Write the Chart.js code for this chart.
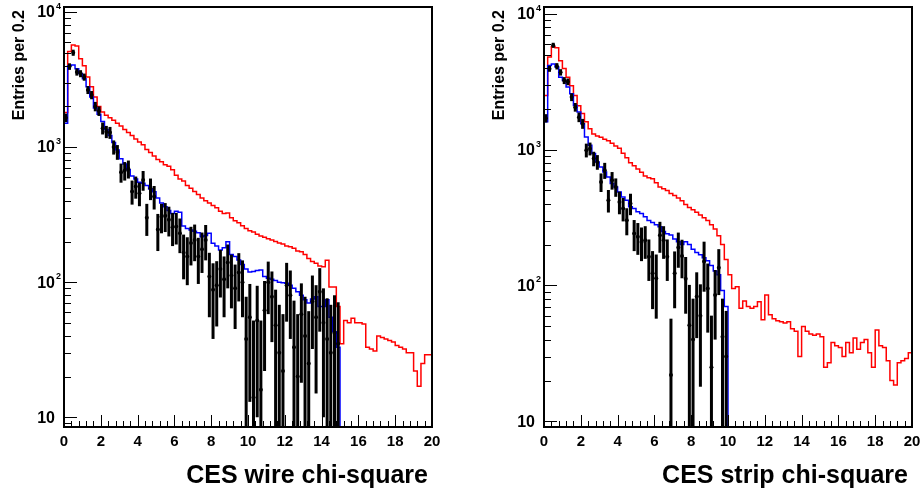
<!DOCTYPE html>
<html>
<head>
<meta charset="utf-8">
<script src="https://cdn.jsdelivr.net/npm/chart.js@4.4.1/dist/chart.umd.min.js"></script>
<style>
html, body { margin: 0; padding: 0; background: #fff; }
#wrap { position: relative; width: 923px; height: 494px; }
canvas { position: absolute; top: 0; }
</style>
</head>
<body>
<div id="wrap">
<canvas id="wireChart" width="480" height="494" style="left:0px"></canvas>
<canvas id="stripChart" width="443" height="494" style="left:480px"></canvas>
</div>
<script>
// 100 bins of 0.2 between 0 and 20
const binWidth = 0.2;
const xTickLabels = ['0', '2', '4', '6', '8', '10', '12', '14', '16', '18', '20'];
const yLabelExps = [1, 2, 3, 4];

// ---- CES wire ----
const wireRed = [
  1800, 5100, 5700, 5600, 4500, 4000, 3300, 2800, 2350, 2000,
  1820, 1720, 1650, 1580, 1500, 1430, 1350, 1280, 1220, 1150,
  1090, 1040, 960, 910, 860, 810, 780, 740, 720, 680,
  620, 580, 560, 520, 495, 470, 445, 420, 400, 385,
  370, 355, 335, 322, 325, 300, 285, 275, 262, 250,
  240, 235, 226, 220, 215, 210, 205, 200, 195, 192,
  185, 183, 178, 170, 168, 160, 150, 142, 138, 132,
  130, 145, 92, 92, 66, 35, 52, 50, 54, 50,
  50, 49, 33, 32, 31, 40, 39, 38, 37, 36,
  34, 33, 32, 30, 30, 22, 17, 25, 29, 29
];
const wireBlue = [
  1500, 4000, 4050, 3800, 3500, 3200, 2800, 2350, 1950, 1750,
  1550, 1350, 1220, 1080, 950, 820, 750, 680, 610, 580,
  550, 540, 520, 490, 467, 420, 385, 361, 340, 323,
  335, 330, 260, 250, 243, 238, 232, 217, 222, 230,
  194, 185, 173, 180, 199, 160, 155, 146, 135, 125,
  119, 120, 122, 123, 110, 107, 105, 103, 100, 99,
  98, 95, 90, 85, 80, 74, 70, 75, 78, 66,
  66, 74, 55, 43, 33, 0, 0, 0, 0, 0,
  0, 0, 0, 0, 0, 0, 0, 0, 0, 0,
  0, 0, 0, 0, 0, 0, 0, 0, 0, 0
];
const wireData = [
  1650, 3950, 5000, 3600, 3500, 3300, 2650, 2430, 2000, 1850,
  1380, 1300, 1280, 1000, 920, 650, 670, 690, 470, 510,
  455, 570, 300, 495, 430, 245, 305, 310, 290, 255,
  258, 230, 165, 155, 195, 205, 155, 175, 205, 110,
  88, 95, 125, 105, 140, 112, 90, 118, 100, 38,
  55, 14, 52, 16, 62, 100, 78, 48, 30, 22,
  95, 80, 33, 20, 58, 40, 25, 72, 55, 85,
  50, 38, 30, 42, 35
];
const wireErr = [
  120, 220, 260, 220, 210, 200, 180, 170, 160, 150,
  140, 135, 130, 120, 115, 105, 105, 105, 95, 95,
  90, 95, 80, 90, 85, 75, 75, 75, 72, 70,
  68, 66, 60, 60, 62, 62, 58, 58, 60, 55,
  50, 48, 48, 50, 50, 48, 45, 46, 45, 40,
  42, 38, 42, 36, 40, 42, 42, 40, 38, 36,
  44, 42, 40, 38, 40, 38, 36, 40, 40, 42,
  40, 38, 38, 38, 36
];

// ---- CES strip ----
const stripRed = [
  2500, 4800, 5700, 5600, 4500, 3950, 3400, 2950, 2500, 2100,
  1840, 1600, 1420, 1300, 1260, 1230, 1190, 1160, 1110, 1060,
  1020, 940, 870, 800, 760, 720, 680, 640, 620, 610,
  570, 530, 515, 500, 475, 460, 440, 420, 395, 375,
  360, 345, 330, 315, 300, 280, 260, 232, 200, 155,
  120, 95, 98, 68, 77, 70, 68, 70, 76, 56,
  85, 61, 57, 55, 54, 53, 54, 48, 46, 30,
  50, 46, 44, 43, 44, 42, 25, 27, 38, 36,
  35, 30, 38, 32, 41, 34, 38, 40, 32, 25,
  47, 36, 35, 28, 20, 18.5, 27, 28, 29, 32
];
const stripBlue = [
  1600, 4150, 4250, 4040, 3400, 3220, 2880, 2570, 2110, 1885,
  1550, 1235, 1075, 935, 810, 745, 684, 628, 562, 531,
  488, 448, 424, 379, 368, 348, 339, 320, 300, 290,
  280, 270, 250, 240, 235, 220, 210, 200, 210, 200,
  185, 175, 168, 160, 152, 140, 128, 120, 92, 70,
  0, 0, 0, 0, 0, 0, 0, 0, 0, 0,
  0, 0, 0, 0, 0, 0, 0, 0, 0, 0,
  0, 0, 0, 0, 0, 0, 0, 0, 0, 0,
  0, 0, 0, 0, 0, 0, 0, 0, 0, 0,
  0, 0, 0, 0, 0, 0, 0, 0, 0, 0
];
const stripData = [
  1700, 3930, 5850, 4100, 3700, 3220, 3150, 2430, 2050, 1730,
  1550, 990, 1015, 858, 810, 577, 703, 424, 595, 531,
  412, 368, 302, 401, 241, 228, 209, 215, 163, 123,
  113, 234, 215, 163, 22, 123, 190, 165, 112, 51,
  40, 83, 60, 150, 95, 25, 85, 135, 42, 30
];
const stripErr = [
  120, 200, 250, 220, 200, 190, 180, 160, 150, 140,
  130, 115, 110, 105, 100, 90, 95, 80, 88, 82,
  78, 72, 68, 72, 62, 60, 58, 58, 55, 56,
  56, 60, 58, 55, 35, 55, 55, 52, 50, 50,
  40, 42, 42, 60, 50, 35, 45, 50, 38, 35
];

const FONT = '"Liberation Sans", Arial, Helvetica, sans-serif';

// histogram as a step line: one point per left bin edge, plus closing edge
function stepPoints(vals, floor) {
  const pts = vals.map((v, i) => ({ x: i * binWidth, y: v > 0 ? v : floor }));
  const last = vals[vals.length - 1];
  pts.push({ x: vals.length * binWidth, y: last > 0 ? last : floor });
  return pts;
}

const rootAxes = {
  id: 'rootAxes',
  afterDatasetsDraw(chart, args, o) {
    const { ctx, chartArea: a, scales: { x, y } } = chart;
    // error bars of the data points
    ctx.save();
    ctx.beginPath();
    ctx.rect(a.left, a.top, a.right - a.left, a.bottom - a.top);
    ctx.clip();
    ctx.strokeStyle = '#000';
    ctx.lineWidth = 3;
    o.values.forEach((v, i) => {
      const e = o.errors[i];
      const px = x.getPixelForValue((i + 0.5) * binWidth);
      const lo = v - e;
      const yLo = lo > y.min ? y.getPixelForValue(lo) : a.bottom;
      const yHi = y.getPixelForValue(v + e);
      ctx.beginPath();
      ctx.moveTo(px, yLo);
      ctx.lineTo(px, yHi);
      ctx.stroke();
    });
    ctx.restore();
  },
  afterDraw(chart, args, o) {
    const { ctx, chartArea: a, scales: { x, y } } = chart;
    ctx.save();
    ctx.strokeStyle = '#000';
    ctx.fillStyle = '#000';

    // x ticks, every 0.4, long every 2
    ctx.lineWidth = 1;
    for (let k = 0; k <= 50; k++) {
      const px = Math.round(x.getPixelForValue(k * 0.4)) + 0.5;
      const len = k % 5 === 0 ? 12 : 6;
      ctx.beginPath();
      ctx.moveTo(px, a.bottom);
      ctx.lineTo(px, a.bottom - len);
      ctx.stroke();
    }
    // y ticks, log decades
    for (let d = 0; d <= 4; d++) {
      for (let m = 1; m <= 9; m++) {
        const v = m * Math.pow(10, d);
        if (v < y.min || v > y.max) continue;
        const py = Math.round(y.getPixelForValue(v)) + 0.5;
        ctx.beginPath();
        ctx.moveTo(a.left, py);
        ctx.lineTo(a.left + (m === 1 ? 13 : 7), py);
        ctx.stroke();
      }
    }

    // frame
    ctx.lineWidth = 2;
    ctx.strokeRect(a.left, a.top, a.right - a.left, a.bottom - a.top);

    // x labels
    ctx.font = 'bold 15px ' + FONT;
    ctx.textAlign = 'center';
    ctx.textBaseline = 'middle';
    xTickLabels.forEach(t => {
      ctx.fillText(t, x.getPixelForValue(Number(t)), a.bottom + 15);
    });

    // y labels 10, 10^2 ...
    yLabelExps.forEach(p => {
      const py = y.getPixelForValue(Math.pow(10, p));
      ctx.font = 'bold 16px ' + FONT;
      ctx.textAlign = 'right';
      ctx.textBaseline = 'middle';
      ctx.fillText('10', a.left - 9, py + 1);
      if (p > 1) {
        ctx.font = 'bold 9px ' + FONT;
        ctx.textAlign = 'left';
        ctx.textBaseline = 'alphabetic';
        ctx.fillText(String(p), a.left - 8, py - 3);
      }
    });

    // axis titles
    ctx.font = 'bold 25px ' + FONT;
    ctx.textAlign = 'right';
    ctx.textBaseline = 'alphabetic';
    ctx.fillText(o.xTitle, a.right - 4, a.bottom + 56);

    ctx.translate(24, a.top + 3);
    ctx.rotate(-Math.PI / 2);
    ctx.font = 'bold 16px ' + FONT;
    ctx.textAlign = 'right';
    ctx.fillText('Entries per 0.2', 0, 0);
    ctx.restore();
  }
};

function makePanel(id, red, blue, vals, errs, yMin, yMax, xTitle, padRight) {
  const pts = vals.map((v, i) => ({ x: (i + 0.5) * binWidth, y: v }))
    .filter(p => p.y >= yMin);
  return new Chart(document.getElementById(id), {
    type: 'line',
    data: {
      datasets: [
        {
          label: 'data',
          data: pts,
          showLine: false,
          pointRadius: 2,
          pointBorderWidth: 0,
          pointBackgroundColor: '#000'
        },
        {
          label: 'blue',
          data: stepPoints(blue, yMin),
          stepped: true,
          borderColor: '#0000ff',
          borderWidth: 1.5,
          pointRadius: 0,
          fill: false
        },
        {
          label: 'red',
          data: stepPoints(red, yMin),
          stepped: true,
          borderColor: '#ff0000',
          borderWidth: 1.5,
          pointRadius: 0,
          fill: false
        }
      ]
    },
    options: {
      responsive: false,
      animation: false,
      events: [],
      layout: { padding: { left: 64, right: padRight, top: 7, bottom: 67 } },
      plugins: {
        legend: { display: false },
        tooltip: { enabled: false },
        rootAxes: { values: vals, errors: errs, xTitle: xTitle }
      },
      scales: {
        x: { type: 'linear', min: 0, max: 20, display: false, bounds: 'data' },
        y: { type: 'logarithmic', min: yMin, max: yMax, display: false, bounds: 'data' }
      }
    },
    plugins: [rootAxes]
  });
}

makePanel('wireChart', wireRed, wireBlue, wireData, wireErr, 8.47, 10890, 'CES wire chi-square', 48);
makePanel('stripChart', stripRed, stripBlue, stripData, stripErr, 9.1, 11180, 'CES strip chi-square', 11);
</script>
</body>
</html>
